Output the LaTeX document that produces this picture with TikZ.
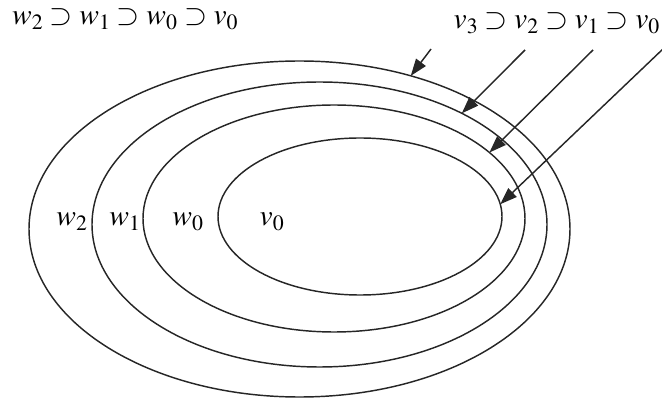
\documentclass[tikz,border=0pt]{standalone}
\usepackage{mathptmx}
\usetikzlibrary{shapes.geometric,arrows.meta}
\begin{document}
\begin{tikzpicture}[x=1pt,y=-1pt,
  ring/.style={draw=black!85, line width=1.45pt, ellipse, inner sep=0pt, outer sep=0pt},
  lbl/.style={inner sep=0pt, font=\fontsize{29.5}{32}\selectfont},
  pointer/.style={draw=black!85, line width=1.45pt, -{Triangle[length=17pt,width=12pt]}}]
\useasboundingbox (0,0) rectangle (662,403);
% ellipses
\node[ring, minimum width=541pt, minimum height=336pt] (w2) at (299.5,229) {};
\node[ring, minimum width=455pt, minimum height=285pt] (w1) at (319.5,224.5) {};
\node[ring, minimum width=382pt, minimum height=227pt] (w0) at (334,218.5) {};
\node[ring, minimum width=284pt, minimum height=157pt] (v0) at (360,216.5) {};
% region labels
\node[lbl, anchor=base] (lw2) at (72,226) {$w_2$};
\node[lbl, anchor=base] (lw1) at (125,226) {$w_1$};
\node[lbl, anchor=base] (lw0) at (188,226) {$w_0$};
\node[lbl, anchor=base] (lv0) at (272,226) {$v_0$};
% headings
\node[lbl, anchor=base west] (hw) at (12,25) {$w_2\supset w_1\supset w_0\supset v_0$};
\node[lbl, anchor=base east] (hv) at (660,29) {$v_3\supset v_2\supset v_1\supset v_0$};
% arrows
\coordinate (s3) at (431,49);
\coordinate (s2) at (525,50);
\coordinate (s1) at (593,50);
\coordinate (s0) at (664,48);
\draw[pointer] (s3) -- (w2.54);
\draw[pointer] (s2) -- (w1.38);
\draw[pointer] (s1) -- (w0.23);
\draw[pointer] (s0) -- (v0.5);
\end{tikzpicture}
\end{document}
